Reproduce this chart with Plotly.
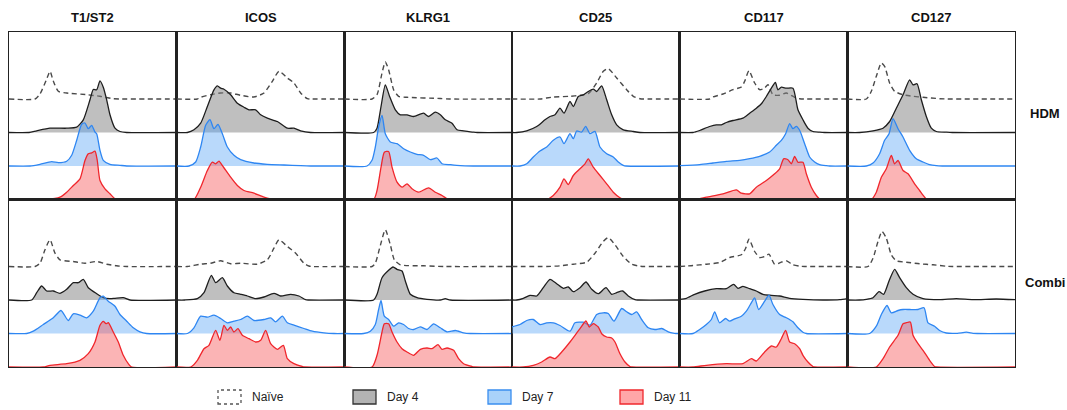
import plotly.graph_objects as go
from plotly.subplots import make_subplots

# ---------------- data (x = fluorescence position a.u., h = normalised count) -------------
MARKERS = ["T1/ST2", "ICOS", "KLRG1", "CD25", "CD117", "CD127"]
CONDITIONS = ["HDM", "Combi"]
STAGES = ["Naïve", "Day 4", "Day 7", "Day 11"]

T1ST2_HDM_NAIVE = [(26,0),(31,5),(37.7,20),(41,27.7),(44.3,18),(49.3,7.7),(57.7,6),(77.7,4.3),(91,2.7),(104,0.3),(110,0)]
T1ST2_HDM_DAY4 = [(20,0),(27.7,1.7),(41,4.3),(57.7,4.3),(67.7,5.3),(74.3,12.7),(81,32.7),(84.3,43),(87.7,42.7),(91,51.7),(94.3,45.3),(97.7,32.7),(101,17.7),(106,4.3),(111,1),(117.7,0)]
T1ST2_HDM_DAY7 = [(21,0),(31,1.7),(42.7,4.3),(49.3,3.3),(57.7,4.7),(62.7,10.7),(67.7,25.7),(72.7,41.7),(76,43),(79.3,37.3),(82.7,40.7),(86,34),(87.7,32.3),(91,15.7),(94.3,5.7),(101,1.7),(111,0.7),(117.7,0)]
T1ST2_HDM_DAY11 = [(37.7,0),(51,2.3),(57.7,7.3),(64.3,14),(71,20.7),(76,39),(79.3,45.7),(82.7,46.7),(86,48.3),(88.3,39),(91,19),(96,10.7),(101,5.7),(106,0.7),(108,0)]

ICOS_HDM_NAIVE = [(20.7,0),(24,1.7),(34,4.3),(44,6),(54,6),(64,3.7),(77.3,2),(87.3,6),(95.7,17.7),(102.3,27.7),(110.7,21),(117.3,16),(124,6),(130.7,0.3),(134,0)]
ICOS_HDM_DAY4 = [(10.7,0),(17.3,2.7),(24,9.3),(30.7,26),(37.3,42.7),(40.7,46.7),(44,44.3),(47.3,43.3),(54,37.7),(60.7,29.3),(67.3,25.3),(72.3,22.7),(79,22.7),(84,17.7),(90.7,14.3),(100.7,11),(110.7,4.3),(117.3,4.3),(124,1.7),(134,0)]
ICOS_HDM_DAY7 = [(12.3,0),(19,4),(24,19),(29,40.7),(33.3,46.3),(37.3,37.3),(41.3,41.7),(45.7,32.3),(50.7,19),(57.3,10.7),(64,6.3),(77.3,3),(90.7,1.7),(107.3,1),(124,0.3),(134,0)]
ICOS_HDM_DAY11 = [(17.3,0),(24,12.3),(30.7,29),(35.7,37.3),(39,35.7),(42.3,38.3),(45.7,34),(54,22.3),(60.7,14),(67.3,9),(77.3,6.3),(87.3,2.3),(94,0.7),(100.7,0)]

KLRG1_HDM_NAIVE = [(27.7,0),(32.7,4.3),(37.7,26),(41,37),(44.3,29.3),(49.3,9.3),(54.3,2.7),(62.7,1.7),(96,0.5),(105,0)]
KLRG1_HDM_DAY4 = [(29.3,0),(32.7,4.3),(36.7,26),(41,47.7),(45.3,36),(51,22.7),(56,17.7),(62.7,17.7),(69.3,16),(79.3,19.3),(84.3,16),(91,20.3),(96,17.7),(101,12.7),(107.7,9.3),(112.7,2.7),(119.3,1.7),(129.3,0.3),(133,0)]
KLRG1_HDM_DAY7 = [(22.7,0),(27.7,5.7),(31,19),(34.3,39),(37.7,50.7),(41,32.3),(46,24),(52.7,22.3),(59.3,17.3),(66,14),(72.7,11.7),(79.3,10.7),(86,6.3),(92.7,8),(97.7,2.3),(106,1.3),(116,0.3),(129,0)]
KLRG1_HDM_DAY11 = [(29.3,0),(32.7,9),(36.7,32.3),(40,47.3),(44.3,48),(47.7,32.3),(52.7,17.3),(57.7,12.3),(62.7,15.7),(67.7,10.7),(74.3,7.3),(84.3,11.7),(91,7.3),(97.7,4),(102.7,0.7),(106,0)]

CD25_HDM_NAIVE = [(28,0),(41.3,2),(58,2.7),(68,3.7),(76.3,5.3),(84.7,16),(91.3,27.7),(96.3,30.3),(104.7,21),(114.7,9.3),(121.3,2.7),(128,0.3),(132,0)]
CD25_HDM_DAY4 = [(4.7,0),(14.7,1.7),(24.7,6),(33,12.7),(38,16),(43,17.7),(48,24.3),(52,19.3),(58,31),(61.3,26),(66.3,36),(71.3,37.7),(76.3,41),(81.3,43.3),(84.7,41),(89.7,46.7),(94.7,32.7),(99.7,17.7),(104.7,7.7),(111.3,2.7),(121.3,1),(128,0)]
CD25_HDM_DAY7 = [(8,0),(14.7,2.3),(21.3,9),(28,15),(34.7,19),(41.3,25.7),(48,29),(52,22.3),(58,32.3),(61.3,27.3),(64.7,35),(69.7,34),(73.7,39.7),(78,32.3),(83,34.7),(88,19),(94.7,12.3),(101.3,9),(106.3,4),(111.3,0.7),(114,0)]
CD25_HDM_DAY11 = [(34.7,0),(41.3,4),(48,12.3),(52,20.7),(56.3,15),(61.3,24),(68,30.7),(73,35.7),(76.3,40.7),(81.3,32.3),(88,24),(94.7,15.7),(101.3,7.3),(108,1.7),(111.3,0)]

CD117_HDM_NAIVE = [(30,0),(33.3,2),(43.3,5),(53.3,9.3),(61.7,12),(65,17.7),(69.3,28.3),(75,16),(80,9.3),(85,11),(88.3,14.3),(93.3,4.3),(100,3.7),(106.7,6),(115,1.7),(120,0.3),(125,0)]
CD117_HDM_DAY4 = [(13.3,0),(20,2),(30,6),(36.7,7.7),(41.7,7.7),(46.7,10),(53.3,12),(63.3,14.3),(70,19.3),(76.7,24.3),(81.7,28.7),(86.7,36),(91.7,44.3),(95.7,50),(98.3,42.7),(101.7,45.3),(106.7,44.3),(113.3,44.3),(118.3,22.7),(123.3,12.7),(128.3,4.3),(133.3,1),(140,0.3),(145,0)]
CD117_HDM_DAY7 = [(0,0.3),(20,1.3),(33.3,3),(46.7,4.7),(60,5.7),(70,7.3),(80,9.7),(90,14),(96.7,20.7),(101.7,25.7),(106,32.3),(110,42.3),(113.3,37.3),(116.7,39.7),(120,35.7),(125,22.3),(130,9),(135,4),(140,1.3),(146.7,0.3),(150,0)]
CD117_HDM_DAY11 = [(16.7,0),(26.7,2.3),(43.3,5.7),(56.7,9.7),(61.7,6.3),(70,5.7),(76.7,12.3),(86.7,19),(95,25.7),(100,30.7),(104,40.7),(108.3,39.7),(111.7,35.7),(115,43),(118.3,37.3),(123.3,37.3),(126.7,25.7),(131.7,12.3),(136.7,4),(140,0.5),(142,0)]

CD127_HDM_NAIVE = [(19,0),(24,7.7),(29,22.7),(34,36),(37.3,32.7),(42.3,16),(47.3,7.7),(55.7,4.3),(65.7,2.7),(75.7,1.7),(92.3,0.3),(100,0)]
CD127_HDM_DAY4 = [(12.3,0),(25.7,1.7),(35.7,4.3),(42.3,11),(49,24.3),(55.7,37.7),(62.3,52.7),(65.7,47.7),(69.7,48.7),(74,32.7),(79,16),(84,4.3),(89,1),(99,0.3),(105,0)]
CD127_HDM_DAY7 = [(19,0),(25.7,3),(32.3,12.3),(37.3,25.7),(41.7,32.3),(45.7,47.3),(50.7,37.3),(55.7,29),(62.3,15.7),(69,7.3),(75.7,4),(82.3,1.3),(89,0.3),(95,0)]
CD127_HDM_DAY11 = [(24,0),(29,7.3),(34,22.3),(39,30.7),(44,44),(47.3,35.7),(50.7,39),(55.7,29),(60.7,25.7),(67.3,15.7),(72.3,9),(77.3,2.3),(79,0.5),(81,0)]

T1ST2_COMBI_NAIVE = [(26,0),(31,3.3),(36,16.7),(41,26.7),(46,13.3),(51,6.7),(64.3,5),(76,3.3),(87.7,5),(97.7,2.3),(107.7,0.7),(117.7,0)]
T1ST2_COMBI_DAY4 = [(22.7,0),(27.7,7.3),(32.7,14),(37.7,9),(44.3,9),(51,6.7),(57.7,10.7),(64.3,17.3),(69.3,17.3),(74.3,20.7),(79.3,12.3),(87.7,6.3),(94.3,2.3),(101,1.3),(106,1.7),(114.3,2.3),(121,0)]
T1ST2_COMBI_DAY7 = [(17.7,0),(24.3,2.3),(34.3,9),(44.3,15.7),(52,23),(59.3,13),(64.3,19.7),(71,18.3),(77.7,15.7),(84.3,22.3),(91,35.7),(94.3,37.3),(99.3,32.3),(106,27.3),(111,19),(117.7,12.3),(124.3,5.7),(131,1.7),(137.7,0)]
T1ST2_COMBI_DAY11 = [(34.3,0),(41,1.7),(57.7,3.3),(71,6.7),(79.3,13.3),(86,25),(91,41.7),(94.3,45.7),(97,43.3),(99.3,44.3),(104.3,35),(109.3,25),(114.3,11.7),(119.3,3.3),(122.7,0)]

ICOS_COMBI_NAIVE = [(10.7,0),(24,2.3),(34,3.3),(44,5.7),(54,2.7),(64,3.3),(80.7,2.3),(90.7,6.7),(97.3,18.3),(102.3,26.7),(110.7,20),(119,13.3),(127.3,3.3),(132.3,0.5),(135,0)]
ICOS_COMBI_DAY4 = [(8,0),(20.7,1.3),(27.3,7.3),(34.7,24.7),(39,17.3),(45.7,22.3),(50.7,14),(57.3,7.3),(64,5.7),(70.7,4),(79,1.3),(87.3,3),(97.3,6.7),(104,4),(114,5.7),(122.3,4),(129,0.3),(132,0)]
ICOS_COMBI_DAY7 = [(10.7,0),(17.3,5.7),(24,17.3),(30.7,16.3),(37.3,18.3),(44,15),(50.7,10.7),(57.3,12.3),(64,14),(70.7,17.3),(77.3,13),(87.3,14),(94,15.7),(99,11.7),(105.7,17.3),(110.7,10.7),(117.3,8.3),(127.3,5),(135.7,2.3),(147.3,0.7),(157.3,0)]
ICOS_COMBI_DAY11 = [(14,0),(20.7,6.7),(27.3,18.3),(32.3,21.7),(39,36.7),(43.3,26.7),(47.3,41.7),(50.7,36.7),(54,40),(57.3,35),(61.3,38.3),(65.7,31.7),(72.3,28.3),(79,25),(84,26.7),(89,36.7),(94,23.3),(100.7,17.7),(106.7,21.7),(110.7,8.3),(117.3,3.3),(125.7,0.5),(128,0)]

KLRG1_COMBI_NAIVE = [(27.7,0),(31,3.3),(35.3,18.3),(41,36.7),(46,21.7),(50,6.7),(56,1.7),(79.3,0.7),(100,0)]
KLRG1_COMBI_DAY4 = [(29.3,0),(32.7,5.7),(37.7,22.3),(44.3,29.7),(48.7,33),(52.7,30.7),(57.7,29),(61,19),(66,5.7),(72.7,2.3),(82.7,0.7),(96,0),(101,1.3),(106,0)]
KLRG1_COMBI_DAY7 = [(19.3,0),(26,2.3),(31,9),(34.3,24),(36.7,33),(40,17.3),(44.3,14),(49.3,7.3),(54.3,10.7),(59.3,9),(64.3,5),(69.3,4),(76,6.7),(82.7,4),(89.3,9.7),(96,5.7),(102.7,1.7),(111,3),(119.3,0.7),(126,0)]
KLRG1_COMBI_DAY11 = [(27.7,0),(32.7,11.7),(37.7,35),(40,43.3),(44.3,43.3),(47.7,35),(52.7,25),(57.7,18.3),(62.7,15),(69.3,11.7),(76,17.7),(82.7,19),(87.7,18.3),(93.7,22.3),(97.7,17.7),(102.7,19),(109.3,16.7),(114.3,8.3),(119.3,3.3),(127.7,0.5),(130,0)]

CD25_COMBI_NAIVE = [(34.7,0),(48,0.7),(61.3,2.3),(74.7,4.3),(83,13.3),(91.3,25),(96.3,29),(103,21.7),(111.3,10),(119.7,2.3),(128,0.3),(132,0)]
CD25_COMBI_DAY4 = [(4.7,0),(11.3,1.7),(18,4.7),(24.7,4),(31.3,12.3),(38,20.7),(44.7,16.3),(51.3,11.7),(56.3,13),(61.3,8.3),(68,12.3),(74,18),(79.7,10.7),(86.3,6.3),(94,12.3),(99.7,5.7),(104.7,7.3),(110.7,9),(116.3,4),(123,0.3),(126,0)]
CD25_COMBI_DAY7 = [(0,6.7),(8,9),(14.7,13),(21.3,14),(28,9),(34.7,10.7),(41.3,10.7),(48,8),(58,2.3),(63,10.7),(71.3,11.3),(78,8.3),(84.7,19),(91.3,20.7),(96.3,20),(102,12.3),(109.7,25),(114.7,21.7),(119.7,19),(124.7,21.7),(129.7,14),(136.3,5.7),(143,4),(149.7,5),(156.3,1.7),(161.3,0.3),(164,0)]
CD25_COMBI_DAY11 = [(11.3,0),(21.3,1.7),(29.7,5),(38,10),(43,8.3),(49.7,15),(58,25),(63,31.7),(68,38.3),(74,46),(77.3,40),(81.3,43.3),(86.3,40),(89.7,33.3),(94.7,30),(99.7,29),(103,25),(108,13.3),(113,5),(118,0.5),(120,0)]

CD117_COMBI_NAIVE = [(0,0),(13.3,1),(26.7,2.3),(40,4),(50,9),(61.7,11.7),(66,18.3),(69.3,27.3),(75,15),(80,9),(85,10),(89.3,12.3),(95,2.3),(101.7,4.3),(106.7,5.7),(113.3,1.7),(120,0.3),(125,0)]
CD117_COMBI_DAY4 = [(0,0.7),(6.7,1.7),(15,5.7),(25,9),(36.7,11.3),(46.7,11.3),(54,15.7),(58.3,11.7),(63.3,13.7),(70,11.3),(76.7,9),(83.3,5.7),(91.7,4.7),(100,4),(110,1.7),(123.3,0.7),(143.3,0),(160,0.3),(167.7,1.3)]
CD117_COMBI_DAY7 = [(13.3,0),(20,4),(26.7,9),(31.7,14),(35,21.7),(40,10.7),(46,15),(50,12.3),(55,14.7),(61.7,17.3),(66.7,22.3),(70.7,29),(75,35.7),(79,24),(85,32.3),(89.3,38.3),(93.3,29),(100,19),(106.7,15.7),(113.3,11.7),(118.3,5.7),(123.3,1.3),(126.7,0)]
CD117_COMBI_DAY11 = [(13.3,0),(26.7,1.7),(46.7,3.3),(63.3,3.3),(71.7,8.3),(76.7,6),(85,15),(91.7,21),(96.7,20),(101.7,28.3),(106,36.7),(110,25),(115,23.3),(120,18.3),(123.3,11.7),(128.3,5),(133.3,0.5),(135,0)]

CD127_COMBI_NAIVE = [(20.7,0),(25.7,8.3),(30.7,25),(34.7,35),(39,28.3),(44,11.7),(49,5.7),(59,4.3),(72.3,2.7),(85.7,1.7),(99,0.3),(105,0)]
CD127_COMBI_DAY4 = [(12,0),(19,0.7),(25.7,2.3),(31.7,8.3),(36.3,5.7),(41.7,19),(47.3,30.7),(52.3,22.3),(59,12.3),(65.7,5.7),(75.7,1.3),(92.3,0.3),(109,1.3),(125.7,0.3),(149,1),(167.7,0.3)]
CD127_COMBI_DAY7 = [(22.3,0),(29,7.3),(34,19),(39.7,28),(44,20.7),(50.7,23),(55.7,24),(62.3,24),(70.7,24),(76.7,25.7),(80.7,10.7),(87.3,7.3),(92.3,3),(99,0.5),(110,0.2),(119,1.3),(125.7,0.2),(130,0)]
CD127_COMBI_DAY11 = [(29,0),(35.7,8.3),(42.3,20),(50.7,31.7),(55.7,43.3),(59,44.3),(63,45),(65.7,31.7),(70.7,23.3),(75.7,16.7),(82.3,6.7),(87.3,0.5),(89,0)]

PANELS = {
    ("HDM", 0): [T1ST2_HDM_NAIVE, T1ST2_HDM_DAY4, T1ST2_HDM_DAY7, T1ST2_HDM_DAY11],
    ("HDM", 1): [ICOS_HDM_NAIVE, ICOS_HDM_DAY4, ICOS_HDM_DAY7, ICOS_HDM_DAY11],
    ("HDM", 2): [KLRG1_HDM_NAIVE, KLRG1_HDM_DAY4, KLRG1_HDM_DAY7, KLRG1_HDM_DAY11],
    ("HDM", 3): [CD25_HDM_NAIVE, CD25_HDM_DAY4, CD25_HDM_DAY7, CD25_HDM_DAY11],
    ("HDM", 4): [CD117_HDM_NAIVE, CD117_HDM_DAY4, CD117_HDM_DAY7, CD117_HDM_DAY11],
    ("HDM", 5): [CD127_HDM_NAIVE, CD127_HDM_DAY4, CD127_HDM_DAY7, CD127_HDM_DAY11],
    ("Combi", 0): [T1ST2_COMBI_NAIVE, T1ST2_COMBI_DAY4, T1ST2_COMBI_DAY7, T1ST2_COMBI_DAY11],
    ("Combi", 1): [ICOS_COMBI_NAIVE, ICOS_COMBI_DAY4, ICOS_COMBI_DAY7, ICOS_COMBI_DAY11],
    ("Combi", 2): [KLRG1_COMBI_NAIVE, KLRG1_COMBI_DAY4, KLRG1_COMBI_DAY7, KLRG1_COMBI_DAY11],
    ("Combi", 3): [CD25_COMBI_NAIVE, CD25_COMBI_DAY4, CD25_COMBI_DAY7, CD25_COMBI_DAY11],
    ("Combi", 4): [CD117_COMBI_NAIVE, CD117_COMBI_DAY4, CD117_COMBI_DAY7, CD117_COMBI_DAY11],
    ("Combi", 5): [CD127_COMBI_NAIVE, CD127_COMBI_DAY4, CD127_COMBI_DAY7, CD127_COMBI_DAY11],
}

# ---------------- styling ----------------
XMAX = 167.7          # x-axis extent of each panel
OFFSET = 33.5         # vertical offset between stacked histograms
BASE = {"Naïve": 3 * OFFSET, "Day 4": 2 * OFFSET, "Day 7": OFFSET, "Day 11": 0}
LINE = {"Naïve": "#4a4a4a", "Day 4": "#1e1e1e", "Day 7": "#2e86f2", "Day 11": "#f0262c"}
FILL = {"Day 4": "rgba(128,128,128,0.5)", "Day 7": "rgba(80,160,245,0.4)", "Day 11": "rgba(246,88,91,0.45)"}
FONT = "Liberation Sans, Arial, sans-serif"

W, H = 1067, 410
ML, MR, MT, MB = 9, 52, 32, 43

fig = make_subplots(rows=2, cols=6, horizontal_spacing=0, vertical_spacing=0)

for (cond, ci), curves in PANELS.items():
    row = CONDITIONS.index(cond) + 1
    col = ci + 1
    for stage, pts in zip(STAGES, curves):
        xs = [p[0] for p in pts]
        hs = [p[1] for p in pts]
        if xs[0] > 0:
            xs = [0] + xs
            hs = [0] + hs
        if xs[-1] < XMAX:
            xs = xs + [XMAX]
            hs = hs + [0]
        b = BASE[stage]
        ys = [b + h for h in hs]
        if stage == "Naïve":
            fig.add_trace(go.Scatter(x=xs, y=ys, mode="lines",
                                     line=dict(color=LINE[stage], width=1.4, dash="5px,3.5px",
                                               shape="spline", smoothing=0.6),
                                     hoverinfo="skip", showlegend=False), row=row, col=col)
        else:
            fig.add_trace(go.Scatter(x=[0, XMAX], y=[b, b], mode="lines",
                                     line=dict(width=0, color="rgba(0,0,0,0)"),
                                     hoverinfo="skip", showlegend=False), row=row, col=col)
            fig.add_trace(go.Scatter(x=xs, y=ys, mode="lines", fill="tonexty",
                                     fillcolor=FILL[stage],
                                     line=dict(color=LINE[stage], width=1.3,
                                               shape="spline", smoothing=0.6),
                                     hoverinfo="skip", showlegend=False), row=row, col=col)

fig.update_xaxes(range=[0, XMAX], showticklabels=False, showgrid=False, zeroline=False,
                 ticks="", showline=True, mirror=True, linecolor="#222222", linewidth=1.3)
fig.update_yaxes(range=[0, 5 * OFFSET], showticklabels=False, showgrid=False, zeroline=False,
                 ticks="", showline=True, mirror=True, linecolor="#222222", linewidth=1.3)

PW = W - ML - MR
PH = H - MT - MB


def px_x(x):
    return (x - ML) / PW


def px_y(y):
    return (H - MB - y) / PH


annotations = []
for i, m in enumerate(MARKERS):
    annotations.append(dict(x=(i + 0.5) / 6, y=px_y(17), xref="paper", yref="paper",
                            text="<b>%s</b>" % m, showarrow=False,
                            font=dict(family=FONT, size=13, color="#111111"),
                            xanchor="center", yanchor="middle"))
annotations.append(dict(x=px_x(1045), y=px_y(114), xref="paper", yref="paper",
                        text="<b>HDM</b>", showarrow=False,
                        font=dict(family=FONT, size=13, color="#111111"),
                        xanchor="center", yanchor="middle"))
annotations.append(dict(x=px_x(1045), y=px_y(282), xref="paper", yref="paper",
                        text="<b>Combi</b>", showarrow=False,
                        font=dict(family=FONT, size=13, color="#111111"),
                        xanchor="center", yanchor="middle"))

# legend drawn as boxes + labels
LEG_BOX_X = [218, 353, 488, 620]
LEG_TEXT_X = [250, 385, 520, 652]
LEG_FILL = ["rgba(255,255,255,0)", "#b3b3b3", "#a9d2fa", "#ffa6a8"]
LEG_LINE = ["#555555", "#333333", "#3a8ef0", "#f0282d"]
LEG_DASH = ["dot", "solid", "solid", "solid"]
shapes = []
for i, stage in enumerate(STAGES):
    x0 = LEG_BOX_X[i]
    shapes.append(dict(type="rect", xref="paper", yref="paper",
                       x0=px_x(x0), x1=px_x(x0 + 23), y0=px_y(404), y1=px_y(390),
                       fillcolor=LEG_FILL[i],
                       line=dict(color=LEG_LINE[i], width=1.3, dash=LEG_DASH[i])))
    annotations.append(dict(x=px_x(LEG_TEXT_X[i]), y=px_y(397), xref="paper", yref="paper",
                            text=stage, showarrow=False,
                            font=dict(family=FONT, size=12, color="#222222"),
                            xanchor="left", yanchor="middle"))

fig.update_layout(width=W, height=H, margin=dict(l=ML, r=MR, t=MT, b=MB),
                  paper_bgcolor="white", plot_bgcolor="white",
                  annotations=annotations, shapes=shapes, showlegend=False)

fig.write_html("out.html", config={"displayModeBar": False, "staticPlot": True},
               post_script="document.body.style.margin='0';document.body.style.overflow='hidden';")
